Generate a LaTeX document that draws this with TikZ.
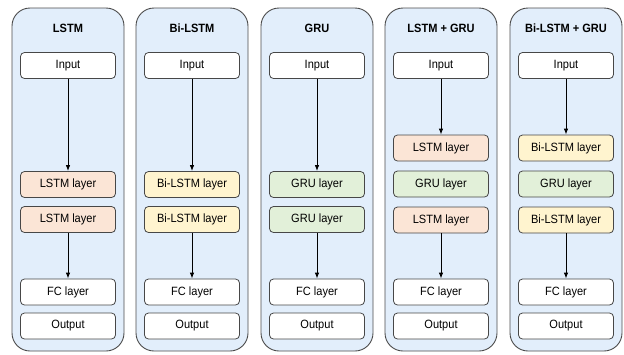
\documentclass[tikz,border=0pt]{standalone}
\usepackage{fontspec}
\setmainfont{Liberation Sans}[FakeStretch=0.92]
\usetikzlibrary{arrows.meta}
\begin{document}
\begin{tikzpicture}[x=1pt,y=-1pt,
  box/.style={draw=black!72, line width=0.8pt, rounded corners=4pt, minimum width=95pt, minimum height=26pt, inner sep=0pt, font=\fontsize{12}{14}\selectfont},
  plain/.style={box, fill=white},
  lstm/.style={box, fill=lstmc},
  bilstm/.style={box, fill=bilstmc},
  gru/.style={box, fill=gruc},
  ttl/.style={font=\bfseries\fontsize{12}{14}\selectfont},
  arr/.style={-{Latex[length=6pt,width=4.5pt]}, line width=0.9pt}]
\definecolor{pnl}{HTML}{E2EEFB}
\definecolor{lstmc}{HTML}{FBE5D6}
\definecolor{bilstmc}{HTML}{FFF4CF}
\definecolor{gruc}{HTML}{E2F0D9}
\useasboundingbox (0,0) rectangle (624,354);
% panels
\foreach \i/\xl in {1/12,2/136,3/261,4/385,5/510}{
  \fill[pnl, draw=black!70, line width=0.9pt, rounded corners=18pt] (\xl,8) rectangle ++(112,343);
}
% panel 1: LSTM
\node[ttl] (t1) at (68,28) {LSTM};
\node[plain] (i1) at (68,65.5) {Input};
\node[lstm] (a1) at (68,184.5) {LSTM layer};
\node[lstm] (b1) at (68,219.5) {LSTM layer};
\node[plain] (f1) at (68,292) {FC layer};
\node[plain] (o1) at (68,326) {Output};
\draw[arr] (i1) -- (a1);
\draw[arr] (b1) -- (f1);
% panel 2: Bi-LSTM
\node[ttl] (t2) at (192,28) {Bi-LSTM};
\node[plain] (i2) at (192,65.5) {Input};
\node[bilstm] (a2) at (192,184.5) {Bi-LSTM layer};
\node[bilstm] (b2) at (192,219.5) {Bi-LSTM layer};
\node[plain] (f2) at (192,292) {FC layer};
\node[plain] (o2) at (192,326) {Output};
\draw[arr] (i2) -- (a2);
\draw[arr] (b2) -- (f2);
% panel 3: GRU
\node[ttl] (t3) at (317,28) {GRU};
\node[plain] (i3) at (317,65.5) {Input};
\node[gru] (a3) at (317,184.5) {GRU layer};
\node[gru] (b3) at (317,219.5) {GRU layer};
\node[plain] (f3) at (317,292) {FC layer};
\node[plain] (o3) at (317,326) {Output};
\draw[arr] (i3) -- (a3);
\draw[arr] (b3) -- (f3);
% panel 4: LSTM + GRU
\node[ttl] (t4) at (441,28) {LSTM + GRU};
\node[plain] (i4) at (441,65.5) {Input};
\node[lstm] (a4) at (441,148) {LSTM layer};
\node[gru] (b4) at (441,184) {GRU layer};
\node[lstm] (c4) at (441,220) {LSTM layer};
\node[plain] (f4) at (441,292) {FC layer};
\node[plain] (o4) at (441,326) {Output};
\draw[arr] (i4) -- (a4);
\draw[arr] (c4) -- (f4);
% panel 5: Bi-LSTM + GRU
\node[ttl] (t5) at (566,28) {Bi-LSTM + GRU};
\node[plain] (i5) at (566,65.5) {Input};
\node[bilstm] (a5) at (566,148) {Bi-LSTM layer};
\node[gru] (b5) at (566,184) {GRU layer};
\node[bilstm] (c5) at (566,220) {Bi-LSTM layer};
\node[plain] (f5) at (566,292) {FC layer};
\node[plain] (o5) at (566,326) {Output};
\draw[arr] (i5) -- (a5);
\draw[arr] (c5) -- (f5);
\end{tikzpicture}
\end{document}
